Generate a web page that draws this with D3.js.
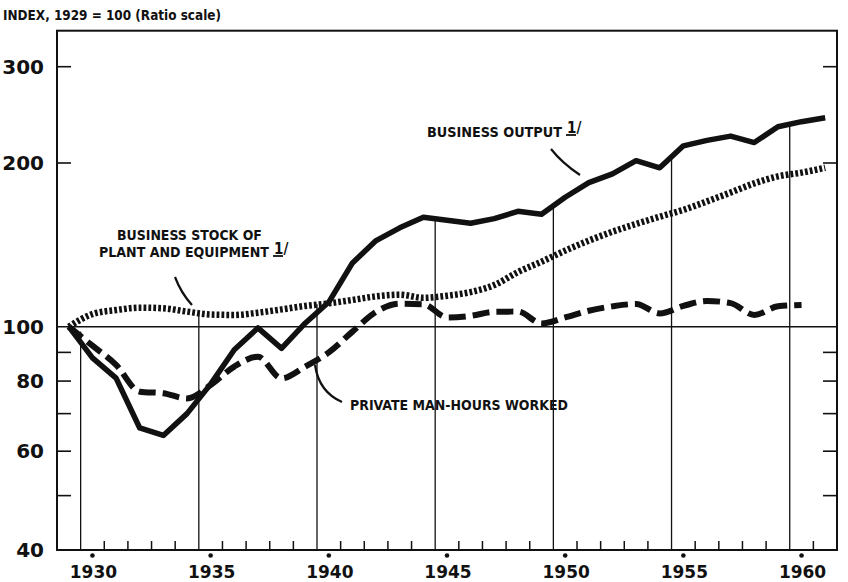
<!DOCTYPE html>
<html>
<head>
<meta charset="utf-8">
<script src="https://cdn.jsdelivr.net/npm/d3@7"></script>
<style>
  body { margin: 0; background: #fff; }
  svg { display: block; }
  .lbl { font-family: "DejaVu Sans Condensed", "DejaVu Sans", sans-serif; font-weight: bold; fill: #111; }
  .num { font-family: "DejaVu Sans", sans-serif; font-weight: bold; fill: #111; }
</style>
</head>
<body>
<div id="chart"></div>
<script>
// years of the series (data plotted at mid-year)
const years = [1929, 1930, 1931, 1932, 1933, 1934, 1935, 1936, 1937, 1938, 1939,
  1940, 1941, 1942, 1943, 1944, 1945, 1946, 1947, 1948, 1949,
  1950, 1951, 1952, 1953, 1954, 1955, 1956, 1957, 1958, 1959, 1960, 1961];

// index, 1929 = 100
const businessOutput = [100, 88, 81, 66, 64, 70, 79, 91, 99.5, 91.5, 101.5,
  111, 131, 144, 152, 159, 157, 155, 158, 163, 161,
  173, 184, 191, 202, 196, 215, 220, 224, 218, 233, 238, 242];

const plantStock = [100, 105.5, 107.3, 108.4, 108.1, 106.6, 105.3, 105.1, 106.1, 107.6, 109.2,
  110.4, 112, 113.7, 114.5, 113, 114, 115.8, 119.3, 126, 131.7,
  138, 144, 149.5, 154.5, 159.3, 164, 170, 176.5, 183.5, 189, 192, 196];

// man-hours stop at 1960
const manHours = [100, 92.5, 85.5, 76.6, 76.1, 74.5, 78.7, 84.9, 88.4, 80.9, 84.9,
  90, 98, 106.5, 110.2, 110, 104, 104.7, 106.5, 106.6, 101.4,
  104, 107, 109, 110.1, 105.8, 109.2, 111.5, 110.5, 105.1, 109, 109.6];

const yLabelTicks = [300, 200, 100, 80, 60, 40];
const yMinorTicks = [90, 70, 50];
const yearLabels = [1930, 1935, 1940, 1945, 1950, 1955, 1960];
// index level where each 5-year rule stops (it runs up to the top curve)
const gridTops = [98, 106, 110, 157, 167, 205, 235];

const W = 848, H = 582;

const svg = d3.select("#chart").append("svg")
  .attr("width", W).attr("height", H);

const x = d3.scaleLinear().domain([1928.5, 1961.5]).range([57, 837]);
// ratio scale, drawn by hand so the decades are not quite even
const y = d3.scaleLog()
  .domain([40, 100, 200, 300, 349])
  .range([550, 326.7, 163, 66.7, 30.7]);

const [x0, x1] = x.range();
const yBottom = y(40), yTop = y(349);

// 5-year rules, placed on the year boundary just before each label
svg.append("g").selectAll("line")
  .data(yearLabels)
  .enter().append("line")
    .attr("x1", d => x(d - 0.5)).attr("x2", d => x(d - 0.5))
    .attr("y1", yBottom)
    .attr("y2", (d, i) => y(gridTops[i]))
    .attr("stroke", "#111").attr("stroke-width", 1.3);

// 100 line
svg.append("line")
  .attr("x1", x0).attr("x2", x1)
  .attr("y1", y(100)).attr("y2", y(100))
  .attr("stroke", "#111").attr("stroke-width", 1.5);

// frame
svg.append("rect")
  .attr("x", x0).attr("y", yTop)
  .attr("width", x1 - x0).attr("height", yBottom - yTop)
  .attr("fill", "none").attr("stroke", "#111").attr("stroke-width", 2);

// y ticks, inward on both sides
const yTicks = yLabelTicks.concat(yMinorTicks).filter(v => v !== 40 && v !== 100);
svg.append("g").selectAll("line")
  .data(yTicks)
  .enter().append("line")
    .attr("x1", x0).attr("x2", x0 + 14)
    .attr("y1", d => y(d)).attr("y2", d => y(d))
    .attr("stroke", "#111").attr("stroke-width", 1.6);
svg.append("g").selectAll("line")
  .data(yTicks)
  .enter().append("line")
    .attr("x1", x1 - 14).attr("x2", x1)
    .attr("y1", d => y(d)).attr("y2", d => y(d))
    .attr("stroke", "#111").attr("stroke-width", 1.6);

svg.append("g").selectAll("text")
  .data(yLabelTicks)
  .enter().append("text")
    .attr("class", "num")
    .attr("x", 44)
    .attr("y", d => y(d))
    .attr("dy", "0.36em")
    .attr("text-anchor", "end")
    .style("font-size", "20px")
    .text(d => d);

// year ticks on the bottom axis (year boundaries)
const boundaries = years.slice(1).map(d => d - 0.5)
  .filter(b => !yearLabels.includes(b + 0.5));
svg.append("g").selectAll("line")
  .data(boundaries)
  .enter().append("line")
    .attr("x1", d => x(d)).attr("x2", d => x(d))
    .attr("y1", yBottom).attr("y2", yBottom - 9)
    .attr("stroke", "#111").attr("stroke-width", 1.5);

// year labels with a dot over the mid-year
const xl = svg.append("g");
xl.selectAll("circle")
  .data(yearLabels)
  .enter().append("circle")
    .attr("cx", d => x(d)).attr("cy", 555.5).attr("r", 2.3)
    .attr("fill", "#111");
xl.selectAll("text")
  .data(yearLabels)
  .enter().append("text")
    .attr("class", "num")
    .attr("x", d => x(d) + 1)
    .attr("y", 578)
    .attr("text-anchor", "middle")
    .style("font-size", "17px")
    .text(d => d);

// series
const line = d3.line()
  .x(d => x(d[0]))
  .y(d => y(d[1]));

function pairs(vals) { return vals.map((v, i) => [years[i], v]); }

svg.append("path")
  .datum(pairs(plantStock))
  .attr("d", line.curve(d3.curveMonotoneX))
  .attr("fill", "none").attr("stroke", "#111")
  .attr("stroke-width", 6.5)
  .attr("stroke-dasharray", "2.8,2.1");

svg.append("path")
  .datum(pairs(manHours))
  .attr("d", line.curve(d3.curveMonotoneX))
  .attr("fill", "none").attr("stroke", "#111")
  .attr("stroke-width", 6)
  .attr("stroke-dasharray", "17,7");

svg.append("path")
  .datum(pairs(businessOutput))
  .attr("d", line.curve(d3.curveLinear))
  .attr("fill", "none").attr("stroke", "#111")
  .attr("stroke-width", 5.5)
  .attr("stroke-linejoin", "round");

// labels: font size is scaled so the text fills the width seen in the original
function label(tx, ty, str, width) {
  const t = svg.append("text")
    .attr("class", "lbl")
    .attr("x", tx).attr("y", ty)
    .style("font-size", "15px")
    .text(str);
  const natural = t.node().getComputedTextLength();
  t.style("font-size", (15 * width / natural).toFixed(2) + "px");
  return tx + width;
}

function footnote(tx, ty) {
  svg.append("text")
    .attr("class", "lbl")
    .attr("x", tx).attr("y", ty)
    .style("font-size", "15px")
    .text("1/");
  svg.append("line")
    .attr("x1", tx - 1).attr("x2", tx + 9)
    .attr("y1", ty + 2).attr("y2", ty + 2)
    .attr("stroke", "#111").attr("stroke-width", 1.8);
}

label(3, 20, "INDEX, 1929 = 100 (Ratio scale)", 218);

footnote(label(427, 137, "BUSINESS OUTPUT", 135) + 5, 133);

label(117, 240, "BUSINESS STOCK OF", 145);
footnote(label(99, 257, "PLANT AND EQUIPMENT", 170) + 5, 254);

label(350, 410, "PRIVATE MAN-HOURS WORKED", 218);

// leaders
const leaders = [
  "M551,149 Q562,163 580,175",
  "M175,277 Q181,293 192,305",
  "M315,365 Q319,392 342,402"
];
svg.append("g").selectAll("path")
  .data(leaders)
  .enter().append("path")
    .attr("d", d => d)
    .attr("fill", "none").attr("stroke", "#111")
    .attr("stroke-width", 2.2);
</script>
</body>
</html>
